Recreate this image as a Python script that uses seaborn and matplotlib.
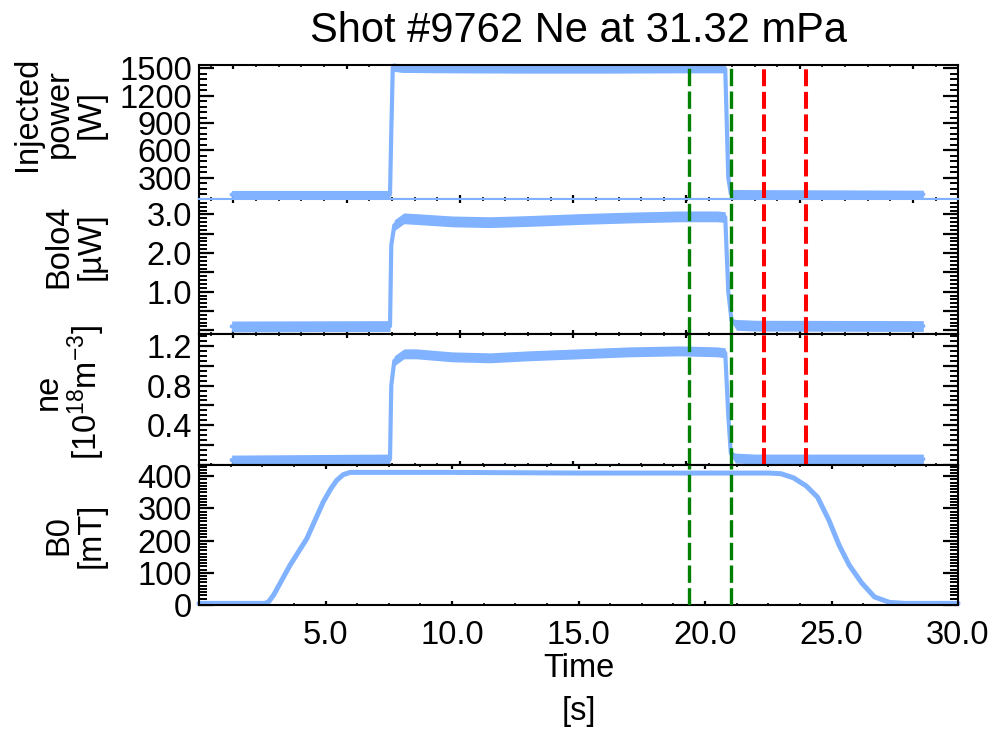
import numpy as np
import pandas as pd
import matplotlib
matplotlib.use("Agg")
import matplotlib.pyplot as plt
import seaborn as sns
from matplotlib.ticker import MultipleLocator, FixedLocator, FuncFormatter

# ---------------- data ----------------
title = "Shot #9762 Ne at 31.32 mPa"

power_t = [1.29, 7.55, 7.60, 7.66, 8.0, 10.0, 13.0, 16.0, 19.0, 20.80, 20.86, 20.92, 21.02, 28.63]
power_v = [115, 115, 800, 1515, 1500, 1495, 1492, 1492, 1495, 1495, 900, 300, 125, 118]
power_n = [45, 45, 10, 45, 45, 45, 45, 45, 45, 45, 10, 10, 45, 45]

bolo_t = [1.29, 7.55, 7.60, 7.72, 8.1, 8.6, 10.0, 11.5, 13.0, 15.0, 17.0, 19.0, 20.5, 20.80, 20.92, 21.05, 21.25, 22.0, 28.63]
bolo_v = [0.10, 0.11, 2.20, 2.72, 2.90, 2.88, 2.82, 2.80, 2.83, 2.88, 2.92, 2.95, 2.95, 2.93, 1.00, 0.25, 0.14, 0.12, 0.11]
bolo_n = [0.14, 0.14, 0.03, 0.14, 0.14, 0.14, 0.14, 0.14, 0.14, 0.14, 0.14, 0.14, 0.14, 0.14, 0.03, 0.05, 0.14, 0.14, 0.14]

ne_t = [1.29, 7.55, 7.60, 7.72, 8.1, 8.6, 10.0, 11.5, 13.0, 15.0, 17.0, 19.0, 20.5, 20.80, 20.92, 21.02, 21.2, 22.0, 28.63]
ne_v = [0.05, 0.06, 0.80, 1.05, 1.12, 1.12, 1.09, 1.08, 1.10, 1.12, 1.14, 1.15, 1.14, 1.13, 0.50, 0.12, 0.07, 0.06, 0.06]
ne_n = [0.05, 0.05, 0.01, 0.05, 0.05, 0.05, 0.05, 0.05, 0.05, 0.05, 0.05, 0.05, 0.05, 0.05, 0.01, 0.02, 0.05, 0.05, 0.05]

b0_t = [0.0, 2.60, 2.75, 2.95, 3.60, 4.26, 4.91, 5.20, 5.44, 5.70, 5.97, 6.50, 10.0, 15.0, 20.0, 22.5,
        23.0, 23.5, 24.0, 24.45, 24.9, 25.3, 25.7, 26.2, 26.7, 27.3, 27.9, 30.0]
b0_v = [5, 5, 10, 31, 124, 206, 320, 360, 387, 405, 412, 412, 412, 410, 410, 410,
        408, 395, 370, 335, 263, 186, 124, 68, 25, 8, 5, 5]

green_t = [19.38, 21.02]
red_t = [22.35, 23.99]

panel_labels = ["Injected\npower\n[W]", "Bolo4\n[\u00b5W]", "ne\n[10$^{18}$m$^{-3}$]", "B0\n[mT]"]
xtick_vals = [5, 10, 15, 20, 25, 30]

# ---------------- style ----------------
sns.set_theme(style="white")
plt.rcParams['font.family'] = ['Liberation Sans', 'DejaVu Sans']
plt.rcParams['mathtext.fontset'] = 'custom'
plt.rcParams['mathtext.rm'] = 'Liberation Sans'
plt.rcParams['mathtext.it'] = 'Liberation Sans:italic'
plt.rcParams['mathtext.default'] = 'regular'
for key in ['text.color', 'axes.labelcolor', 'xtick.color', 'ytick.color', 'axes.edgecolor']:
    plt.rcParams[key] = 'black'

BLUE = '#80B2FF'
FS = 23.5

W, H = 988, 731
fig = plt.figure(figsize=(W / 100, H / 100), dpi=100)
left_px, right_px = 199, 958
edges_px = [64.5, 199, 334, 465, 605]

axes = []
for i in range(4):
    top, bot = edges_px[i], edges_px[i + 1]
    ax = fig.add_axes([left_px / W, 1 - bot / H, (right_px - left_px) / W, (bot - top) / H])
    axes.append(ax)

series = [(power_t, power_v, power_n), (bolo_t, bolo_v, bolo_n), (ne_t, ne_v, ne_n)]
ylims = [(66, 1542), (-0.096, 3.40), (0.0, 1.32), (0, 435)]
ymajor = [300, 0.5, 0.2, 100]
yminor = [60, 0.1, 0.05, 10]
ylabel_keep = [None, [1.0, 2.0, 3.0], [0.4, 0.8, 1.2], None]
ylabel_fmt = ["{:.0f}", "{:.1f}", "{:.1f}", "{:.0f}"]
ylabel_ycen_px = [114, 246.5, 392, 535]

top_major = np.arange(1.356, 30, 4.478)
top_minor = np.arange(1.356 - 0.8957, 30, 0.8957)

for i, ax in enumerate(axes):
    if i < 3:
        t, v, n = series[i]
        t = np.array(t); v = np.array(v); n = np.array(n)
        ax.fill_between(t, v - n, v + n, color=BLUE, lw=0, clip_on=False, zorder=2)
        sns.lineplot(x=t, y=v, ax=ax, color=BLUE, lw=3.0, estimator=None, sort=False,
                     clip_on=False, zorder=2)
    else:
        sns.lineplot(x=b0_t, y=b0_v, ax=ax, color=BLUE, lw=3.6, estimator=None, sort=False,
                     clip_on=False, zorder=2)

    for gt in green_t:
        ax.axvline(gt, color='#008000', lw=2.4, dashes=(5.2, 1.6), zorder=3)
    if i < 3:
        for rt in red_t:
            ax.axvline(rt, color='#FF0000', lw=2.9, dashes=(4.2, 1.4), zorder=3)

    ax.set_xlim(0, 30)
    ax.set_ylim(*ylims[i])
    ax.yaxis.set_major_locator(MultipleLocator(ymajor[i]))
    ax.yaxis.set_minor_locator(MultipleLocator(yminor[i]))
    keep = ylabel_keep[i]
    fmt = ylabel_fmt[i]
    if keep is None:
        ax.yaxis.set_major_formatter(FuncFormatter(lambda val, pos, fmt=fmt: fmt.format(val)))
    else:
        ax.yaxis.set_major_formatter(FuncFormatter(
            lambda val, pos, fmt=fmt, keep=keep: fmt.format(val) if any(abs(val - k) < 1e-6 for k in keep) else ""))

    if i < 3:
        ax.xaxis.set_major_locator(FixedLocator(top_major))
        ax.xaxis.set_minor_locator(FixedLocator(top_minor))
        ax.tick_params(axis='x', labelbottom=False)
    else:
        ax.xaxis.set_major_locator(FixedLocator(xtick_vals))
        ax.xaxis.set_minor_locator(MultipleLocator(1.25))
        ax.xaxis.set_major_formatter(FuncFormatter(lambda val, pos: "{:.1f}".format(val)))

    ax.tick_params(axis='both', which='both', direction='in', top=True, right=True,
                   bottom=True, left=True, color='black', labelcolor='black')
    ax.tick_params(axis='y', which='major', length=10.8, width=1.6, labelsize=FS, pad=5)
    ax.tick_params(axis='y', which='minor', length=5.5, width=1.4)
    ax.tick_params(axis='x', which='major', length=3, width=1.6, labelsize=FS, pad=11)
    ax.tick_params(axis='x', which='minor', length=1.5, width=1.2)

    for s in ax.spines.values():
        s.set_color('black')
        s.set_linewidth(1.5)
    ax.set_xlabel("")
    ax.set_ylabel(panel_labels[i], fontsize=FS, linespacing=1.05, va='bottom', ha='center',
                  color='black')
    top, bot = edges_px[i], edges_px[i + 1]
    ax.yaxis.set_label_coords((107 - left_px) / (right_px - left_px),
                              (bot - ylabel_ycen_px[i]) / (bot - top))
    ax.grid(False)
    ax.set_facecolor('white')

axes[0].spines['bottom'].set_color(BLUE)
axes[1].spines['top'].set_color(BLUE)

axes[0].set_title(title, fontsize=30, pad=16, color='black')

axes[3].set_xlabel("Time\n[s]", fontsize=FS, linespacing=1.5, va='center', color='black')
axes[3].xaxis.set_label_coords(0.5, (605 - 690) / 140)

fig.savefig("out.png", dpi=100)
